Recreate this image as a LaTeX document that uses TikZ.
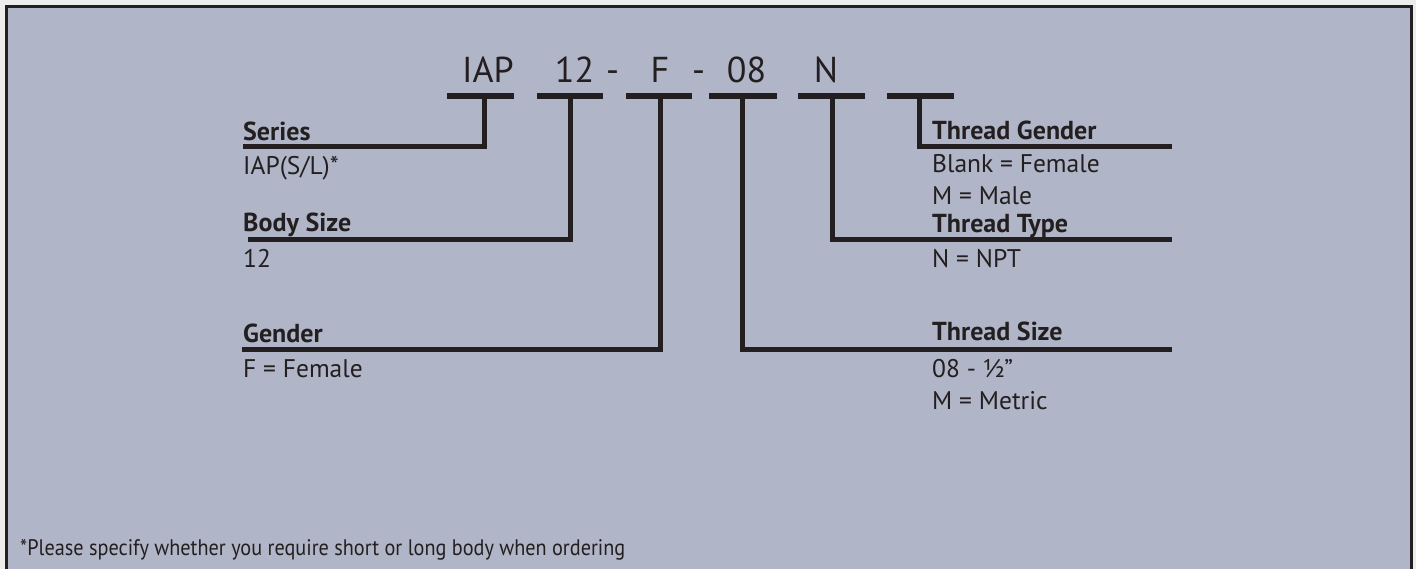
\documentclass[tikz,border=0pt]{standalone}
\usepackage{fontspec}
\setmainfont{PT Sans}
\newfontfamily\notefont[FakeStretch=0.9]{PT Sans}
\definecolor{bg}{HTML}{B0B5C7}
\definecolor{ink}{HTML}{231F20}
\begin{document}
\begin{tikzpicture}[x=1pt,y=-1pt,
  bar/.style={draw=ink,line width=5.5pt,line cap=butt},
  leader/.style={draw=ink,line width=5pt,line join=miter},
  code/.style={font=\fontsize{36}{36}\selectfont,text=ink,inner sep=0pt,anchor=base},
  head/.style={font=\fontsize{26}{26}\selectfont\bfseries,text=ink,inner sep=0pt,anchor=base west},
  val/.style={font=\fontsize{25.5}{25.5}\selectfont,text=ink,inner sep=0pt,anchor=base west},
  note/.style={font=\notefont\fontsize{22.5}{22.5}\selectfont,text=ink,inner sep=0pt,anchor=base west}]
\useasboundingbox (0,0) rectangle (1416,569);
\fill[white!85!gray] (0,0) rectangle (1416,569);
\fill[bg,draw=ink,line width=3pt] (6.5,6.5) rectangle (1411.5,600);
% code letters
\node[code] (cIAP) at (488,83) {IAP};
\node[code] (c12) at (574.5,83) {12};
\node[code] (d1) at (612.5,83) {-};
\node[code] (cF) at (660,83) {F};
\node[code] (d2) at (698.5,83) {-};
\node[code] (c08) at (746.5,83) {08};
\node[code] (cN) at (826,83) {N};
% bars
\coordinate (b1l) at (447,96); \coordinate (b1r) at (514,96);
\coordinate (b2l) at (537,96); \coordinate (b2r) at (603,96);
\coordinate (b3l) at (626,96); \coordinate (b3r) at (692,96);
\coordinate (b4l) at (709,96); \coordinate (b4r) at (777,96);
\coordinate (b5l) at (798,96); \coordinate (b5r) at (865,96);
\coordinate (b6l) at (887,96); \coordinate (b6r) at (954,96);
\foreach \i in {1,...,6} {\draw[bar] (b\i l) -- (b\i r);}
\coordinate (s1) at (484,96);
\coordinate (s2) at (570.5,96);
\coordinate (s3) at (660.5,96);
\coordinate (s4) at (742.5,96);
\coordinate (s5) at (832.5,96);
\coordinate (s6) at (919.5,96);
% end points of leaders
\coordinate (eSeries) at (243,146.5);
\coordinate (eBody) at (248,239.5);
\coordinate (eGender) at (242,349.5);
\coordinate (eTG) at (1172,146.5);
\coordinate (eTT) at (1172,239.5);
\coordinate (eTS) at (1172,349.5);
\draw[leader] (s1) |- (eSeries);
\draw[leader] (s2) |- (eBody);
\draw[leader] (s3) |- (eGender);
\draw[leader] (s4) |- (eTS);
\draw[leader] (s5) |- (eTT);
\draw[leader] (s6) |- (eTG);
% left labels
\node[head] (hSeries) at (243,140.5) {Series};
\node[val] (vSeries) at (243,175) {IAP(S/L)*};
\node[head] (hBody) at (243,232) {Body Size};
\node[val] (vBody) at (243,268) {12};
\node[head] (hGender) at (243,342) {Gender};
\node[val] (vGender) at (243,377) {F = Female};
% right labels
\node[head] (hTG) at (932,140) {Thread Gender};
\node[val] (vTG1) at (932,173) {Blank = Female};
\node[val] (vTG2) at (932,205) {M = Male};
\node[head] (hTT) at (932,233) {Thread Type};
\node[val] (vTT) at (932,268) {N = NPT};
\node[head] (hTS) at (932,341) {Thread Size};
\node[val] (vTS1) at (932,377) {08 - ½”};
\node[val] (vTS2) at (932,409) {M = Metric};
% footnote
\node[note] (fn) at (20,555) {*Please specify whether you require short or long body when ordering};
\end{tikzpicture}
\end{document}
